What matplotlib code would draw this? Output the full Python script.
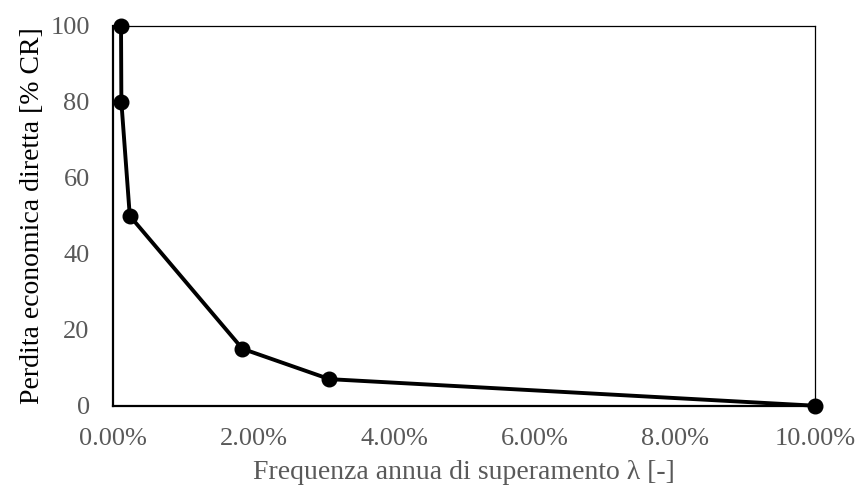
import matplotlib.pyplot as plt
from matplotlib.ticker import PercentFormatter, MultipleLocator

# Frequenza annua di superamento (in %) e perdita economica diretta (% CR)
freq_pct = [0.11, 0.115, 0.235, 1.84, 3.08, 10.0]
loss_pct = [100, 80, 50, 15, 7, 0]

plt.rcParams['font.family'] = ['Liberation Serif', 'DejaVu Serif']
grey = '#595959'

fig = plt.figure(figsize=(8.59, 4.94), dpi=100)
ax = fig.add_axes([0.1319, 0.1787, 0.8169, 0.7687])

ax.plot(freq_pct, loss_pct, color='black', lw=2.8, marker='o', ms=10.5,
        clip_on=False, zorder=5)

ax.set_xlim(0, 10)
ax.set_ylim(0, 100)
ax.xaxis.set_major_locator(MultipleLocator(2))
ax.yaxis.set_major_locator(MultipleLocator(20))
ax.xaxis.set_major_formatter(PercentFormatter(xmax=100, decimals=2))

ax.tick_params(length=0, labelsize=19, labelcolor=grey)
ax.tick_params(axis='x', pad=16)
ax.tick_params(axis='y', pad=17)

for side in ['left', 'bottom']:
    ax.spines[side].set_linewidth(1.6)
for side in ['top', 'right']:
    ax.spines[side].set_linewidth(0.9)
for sp in ax.spines.values():
    sp.set_color('black')

ax.set_xlabel('Frequenza annua di superamento λ [-]', fontsize=20,
              color=grey, labelpad=7)
ax.set_ylabel('Perdita economica diretta [% CR]', fontsize=20,
              color='black', labelpad=4)

fig.savefig('out.png', dpi=100)
